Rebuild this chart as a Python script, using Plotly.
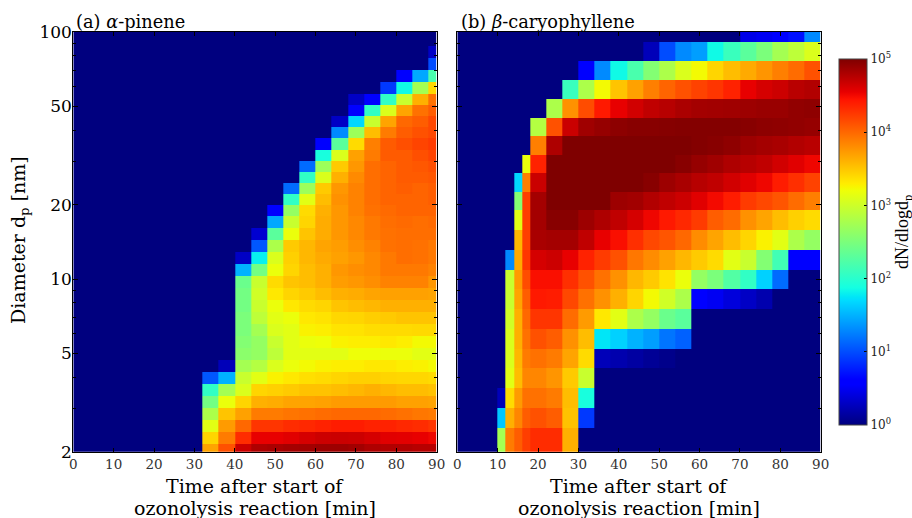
import plotly.graph_objects as go

FONT = "DejaVu Serif"

# ---------- panel (a) alpha-pinene: log10(dN/dlogdp) ----------
alpha_time_edges = [0, 4, 8, 12, 16, 20, 24, 28, 32, 36, 40, 44, 48, 52, 56, 60, 64, 68, 72, 76, 80, 84, 88, 90]
alpha_diam_edges = [100, 88.0, 78.7, 70.3, 62.9, 56.2, 50.6, 45.7, 41.2, 37.2, 33.4, 30.1, 27.2, 24.5, 22.1, 20.0,
                    18.0, 16.1, 14.4, 12.9, 11.5, 10.3, 9.22, 8.24, 7.37, 6.59, 5.89, 5.27, 4.71, 4.22, 3.77, 3.37,
                    3.01, 2.68, 2.41, 2.15, 2.0]
# first occupied column of each row (top to bottom), then its values
alpha_first_col = [23, 22, 22, 20, 19, 17, 17, 16, 16, 15, 15, 14, 14, 13, 13, 12, 12, 11,
                   11, 10, 10, 10, 10, 10, 10, 10, 10, 10, 9, 8, 8, 8, 8, 8, 8, 8]
alpha_rows = [
    [],
    [0.3],
    [1.0],
    [0.55, 1.45, 2.2],
    [0.9, 1.85, 2.75, 3.4],
    [0.3, 0.6, 2.05, 2.97, 3.62, 3.95],
    [0.6, 2.05, 3.08, 3.68, 3.95, 4.06],
    [0.3, 1.68, 2.97, 3.68, 4.0, 4.06, 4.17],
    [1.3, 2.7, 3.55, 3.9, 4.06, 4.12, 4.17],
    [0.6, 2.3, 3.39, 3.88, 4.07, 4.13, 4.19, 4.24],
    [1.9, 3.08, 3.7, 3.9, 4.07, 4.07, 4.13, 4.19],
    [1.15, 2.7, 3.48, 3.75, 3.97, 4.02, 4.07, 4.09, 4.13],
    [2.05, 3.08, 3.62, 3.82, 3.97, 4.02, 4.07, 4.07, 4.09],
    [1.15, 2.7, 3.48, 3.75, 3.86, 3.97, 4.02, 4.05, 4.02, 4.05],
    [2.05, 3.13, 3.55, 3.78, 3.86, 3.97, 4.02, 4.02, 4.02, 4.05],
    [0.6, 2.65, 3.39, 3.62, 3.75, 3.86, 3.95, 3.99, 4.02, 4.02, 4.02],
    [1.45, 2.97, 3.42, 3.64, 3.75, 3.83, 3.91, 3.97, 3.99, 3.97, 3.99],
    [0.35, 2.3, 3.18, 3.51, 3.64, 3.75, 3.83, 3.91, 3.95, 3.97, 3.97, 3.97],
    [1.05, 2.8, 3.48, 3.58, 3.68, 3.72, 3.8, 3.86, 3.95, 3.97, 3.95, 3.91],
    [0.3, 1.8, 3.08, 3.45, 3.58, 3.65, 3.7, 3.75, 3.83, 3.91, 3.97, 3.95, 3.91],
    [1.5, 2.45, 3.18, 3.42, 3.55, 3.62, 3.75, 3.8, 3.83, 3.91, 3.91, 3.91, 3.86],
    [2.4, 2.97, 3.39, 3.51, 3.55, 3.62, 3.72, 3.75, 3.8, 3.86, 3.86, 3.86, 3.75],
    [2.45, 3.02, 3.32, 3.42, 3.48, 3.55, 3.62, 3.64, 3.68, 3.7, 3.7, 3.7, 3.68],
    [2.45, 2.97, 3.18, 3.32, 3.39, 3.42, 3.51, 3.55, 3.58, 3.62, 3.62, 3.62, 3.62],
    [2.5, 2.9, 3.13, 3.18, 3.32, 3.35, 3.41, 3.42, 3.46, 3.48, 3.51, 3.51, 3.51],
    [2.5, 2.75, 3.08, 3.13, 3.27, 3.29, 3.34, 3.35, 3.38, 3.39, 3.39, 3.4, 3.4],
    [2.55, 2.65, 2.97, 3.13, 3.18, 3.2, 3.27, 3.29, 3.29, 3.32, 3.29, 3.23, 3.23],
    [2.6, 2.65, 2.9, 3.13, 3.13, 3.13, 3.13, 3.2, 3.2, 3.18, 3.18, 3.13, 3.13],
    [0.25, 2.75, 2.85, 3.08, 3.18, 3.23, 3.27, 3.29, 3.29, 3.32, 3.32, 3.29, 3.27, 3.23],
    [1.05, 1.5, 2.97, 3.13, 3.27, 3.32, 3.37, 3.39, 3.42, 3.45, 3.45, 3.42, 3.41, 3.41, 3.39],
    [2.05, 2.75, 3.08, 3.42, 3.45, 3.48, 3.52, 3.52, 3.55, 3.58, 3.62, 3.58, 3.55, 3.55, 3.52],
    [2.45, 3.18, 3.42, 3.62, 3.64, 3.68, 3.68, 3.7, 3.73, 3.73, 3.73, 3.73, 3.7, 3.7, 3.68],
    [2.8, 3.51, 3.7, 3.9, 3.9, 3.93, 3.95, 3.98, 4.0, 4.0, 4.0, 3.98, 3.95, 3.92, 3.9],
    [3.13, 3.73, 4.0, 4.27, 4.27, 4.32, 4.34, 4.37, 4.4, 4.4, 4.37, 4.37, 4.34, 4.32, 4.27],
    [3.42, 3.9, 4.32, 4.55, 4.55, 4.58, 4.63, 4.67, 4.68, 4.67, 4.63, 4.58, 4.57, 4.55, 4.52],
    [3.68, 4.12, 4.67, 4.8, 4.82, 4.84, 4.85, 4.87, 4.87, 4.85, 4.8, 4.78, 4.78, 4.76, 4.76],
]

# ---------- panel (b) beta-caryophyllene: log10(dN/dlogdp) ----------
beta_time_edges = [0, 10, 12, 14, 16, 18, 22, 26, 30, 34, 38, 42, 46, 50, 54, 58, 62, 66, 70, 74, 78, 82, 86, 90]
beta_diam_edges = [100, 91.2, 76.0, 63.7, 53.4, 44.9, 37.8, 31.9, 26.9, 22.6, 19.0, 15.8, 13.1, 10.9, 9.08, 7.56,
                   6.28, 5.22, 4.35, 3.62, 3.0, 2.5, 2.0]
beta_first_col = [18, 12, 8, 7, 6, 5, 5, 4, 3, 3, 3, 3, 2, 2, 2, 2, 2, 2, 2, 1, 1, 1]
beta_rows = [
    [0.45, 0.5, 0.55, 0.7, 1.3],
    [0.25, 1.0, 1.3, 1.4, 1.85, 2.1, 2.3, 2.5, 2.75, 2.9, 3.08],
    [0.55, 1.3, 1.85, 2.2, 2.55, 2.8, 3.08, 3.23, 3.42, 3.55, 3.65, 3.76, 3.88, 3.98, 4.12],
    [2.1, 2.8, 3.23, 3.51, 3.7, 3.88, 4.02, 4.12, 4.2, 4.27, 4.37, 4.55, 4.63, 4.67, 4.75, 4.78],
    [2.8, 3.78, 4.15, 4.42, 4.55, 4.65, 4.72, 4.76, 4.81, 4.84, 4.85, 4.86, 4.87, 4.89, 4.89, 4.92, 4.93],
    [2.85, 4.12, 4.68, 4.86, 4.9, 4.94, 4.96, 4.96, 4.97, 4.98, 4.98, 4.98, 4.98, 4.96, 4.94, 4.93, 4.92, 4.9],
    [3.88, 4.8, 5.0, 5.0, 5.0, 5.0, 5.0, 5.0, 5.0, 5.0, 4.98, 4.96, 4.93, 4.87, 4.84, 4.82, 4.78, 4.75],
    [3.18, 4.37, 5.0, 5.0, 5.0, 5.0, 5.0, 5.0, 5.0, 5.0, 4.96, 4.9, 4.86, 4.8, 4.76, 4.72, 4.65, 4.58, 4.52],
    [1.68, 3.88, 4.68, 5.0, 5.0, 5.0, 5.0, 5.0, 5.0, 4.96, 4.87, 4.82, 4.76, 4.72, 4.65, 4.58, 4.52, 4.4, 4.3, 4.2],
    [2.55, 4.22, 4.84, 5.0, 5.0, 5.0, 5.0, 4.87, 4.85, 4.78, 4.72, 4.67, 4.58, 4.5, 4.4, 4.24, 4.17, 4.1, 3.98, 3.88],
    [3.13, 4.22, 4.84, 4.96, 4.96, 4.87, 4.8, 4.72, 4.63, 4.52, 4.42, 4.34, 4.24, 4.06, 3.98, 3.78, 3.68, 3.55, 3.45, 3.39],
    [3.58, 4.22, 4.82, 4.84, 4.84, 4.72, 4.55, 4.47, 4.3, 4.17, 4.1, 4.0, 3.81, 3.68, 3.55, 3.42, 3.27, 3.13, 2.8, 2.65],
    [1.3, 3.65, 4.27, 4.63, 4.67, 4.55, 4.37, 4.24, 4.12, 3.92, 3.81, 3.7, 3.58, 3.48, 3.39, 3.13, 2.97, 2.55, 2.15, 0.6, 0.55],
    [2.97, 3.73, 4.15, 4.47, 4.47, 4.3, 4.12, 3.95, 3.78, 3.58, 3.48, 3.35, 3.18, 2.65, 2.5, 2.25, 2.05, 1.65, 1.15],
    [2.97, 3.68, 4.06, 4.42, 4.4, 4.17, 3.95, 3.78, 3.62, 3.42, 3.23, 3.02, 2.8, 0.55, 0.5, 0.4, 0.3, 0.2],
    [3.02, 3.62, 4.0, 4.27, 4.27, 3.98, 3.73, 3.32, 3.13, 2.8, 2.65, 2.4, 2.3],
    [3.08, 3.62, 3.95, 4.12, 4.06, 3.78, 3.55, 1.75, 1.65, 1.5, 1.4, 1.2, 1.1],
    [3.08, 3.58, 3.9, 3.95, 3.9, 3.68, 3.39, 0.25, 0.2, 0.15, 0.1, 0.05],
    [3.13, 3.55, 3.84, 3.84, 3.76, 3.48, 2.97],
    [0.25, 3.39, 3.73, 3.95, 3.95, 3.9, 3.55, 1.9],
    [1.6, 3.62, 3.84, 4.06, 4.12, 4.06, 3.52, 0.9],
    [2.75, 3.9, 4.06, 4.22, 4.32, 4.32, 3.62],
]

x_ticks = [0, 10, 20, 30, 40, 50, 60, 70, 80, 90]
y_ticks = [2, 5, 10, 20, 50, 100]
y_minor = [3, 4, 6, 7, 8, 9, 30, 40, 60, 70, 80, 90]
cbar_ticks = [0, 1, 2, 3, 4, 5]
cbar_labels = ["10<sup>0</sup>", "10<sup>1</sup>", "10<sup>2</sup>", "10<sup>3</sup>", "10<sup>4</sup>", "10<sup>5</sup>"]

JET = [[0, "rgb(0,0,127)"], [0.11, "rgb(0,0,255)"], [0.125, "rgb(0,0,255)"], [0.34, "rgb(0,219,255)"],
       [0.35, "rgb(0,230,247)"], [0.375, "rgb(20,255,226)"], [0.64, "rgb(238,255,8)"], [0.65, "rgb(247,246,0)"],
       [0.66, "rgb(255,236,0)"], [0.89, "rgb(255,19,0)"], [0.91, "rgb(232,0,0)"], [1, "rgb(127,0,0)"]]


def grid(first_cols, rows, n_cols):
    out = []
    for start, vals in zip(first_cols, rows):
        row = [0.0] * start + list(vals)
        out.append(row + [0.0] * (n_cols - len(row)))
    return out[::-1]


W, H = 912, 518
fig = go.Figure()
fig.add_trace(go.Heatmap(x=alpha_time_edges, y=alpha_diam_edges[::-1],
                         z=grid(alpha_first_col, alpha_rows, len(alpha_time_edges) - 1),
                         colorscale=JET, zmin=0, zmax=5, showscale=False, hoverinfo="skip", xaxis="x", yaxis="y"))
fig.add_trace(go.Heatmap(x=beta_time_edges, y=beta_diam_edges[::-1],
                         z=grid(beta_first_col, beta_rows, len(beta_time_edges) - 1),
                         colorscale=JET, zmin=0, zmax=5, hoverinfo="skip", xaxis="x2", yaxis="y2",
                         colorbar=dict(x=839 / W, xanchor="left", xpad=0, ypad=0, y=1 - 59 / H, yanchor="top",
                                       len=366 / H, lenmode="fraction", thickness=28, thicknessmode="pixels",
                                       outlinecolor="#444", outlinewidth=1,
                                       tickmode="array", tickvals=cbar_ticks, ticktext=cbar_labels,
                                       ticks="inside", ticklen=3, tickcolor="black",
                                       tickfont=dict(family=FONT, size=12, color="#222"))))

x_common = dict(range=[0, 90], tickmode="array", tickvals=x_ticks, ticks="inside", ticklen=4, tickcolor="black",
                showgrid=False, zeroline=False, showline=True, linecolor="black", linewidth=1, mirror="allticks",
                automargin=False,
                tickfont=dict(family=FONT, size=13.5, color="#333"), ticklabelstandoff=0)
y_common = dict(type="log", range=[0.30103, 2], tickmode="array", tickvals=y_ticks, ticks="inside", ticklen=5,
                tickcolor="black", showgrid=False, zeroline=False, showline=True, linecolor="black", linewidth=1,
                mirror="allticks", automargin=False,
                minor=dict(tickmode="array", tickvals=y_minor, ticks="inside", ticklen=3, tickcolor="black",
                           showgrid=False))


def label(text, px, py, size, anchor="center", angle=0, family=FONT):
    return dict(text=text, xref="paper", yref="paper", x=px / W, y=1 - py / H, xanchor=anchor, yanchor="middle",
                textangle=angle, showarrow=False, borderpad=0, font=dict(family=family, size=size, color="black"))


fig.update_layout(
    width=W, height=H, autosize=False, margin=dict(l=0, r=0, t=0, b=0, autoexpand=False),
    paper_bgcolor="white", plot_bgcolor="white", showlegend=False,
    xaxis=dict(domain=[73.3 / W, 436.7 / W], anchor="y", **x_common),
    xaxis2=dict(domain=[457.3 / W, 820.7 / W], anchor="y2", **x_common),
    yaxis=dict(domain=[1 - 451.7 / H, 1 - 32 / H], anchor="x", tickfont=dict(family=FONT, size=17, color="black"),
               ticklabelstandoff=-3, **y_common),
    yaxis2=dict(domain=[1 - 451.7 / H, 1 - 32 / H], anchor="x2", showticklabels=False, **y_common),
    annotations=[
        label("(a) <i>α</i>-pinene", 75, 21, 17.8, anchor="left"),
        label("(b) <i>β</i>-caryophyllene", 460, 21, 17.8, anchor="left"),
        label("Time after start of", 255, 486, 19),
        label("ozonolysis reaction [min]", 255, 508, 19),
        label("Time after start of", 639, 486, 19),
        label("ozonolysis reaction [min]", 639, 508, 19),
        label("Diameter d<sub>p</sub> [nm]", 20, 240, 19, angle=-90),
        label("dN/dlogd<sub>p</sub>", 903, 232, 18, angle=-90, family="Liberation Serif"),
    ],
)

fig.write_html("out.html", config={"displayModeBar": False}, post_script="document.body.style.margin='0';")
